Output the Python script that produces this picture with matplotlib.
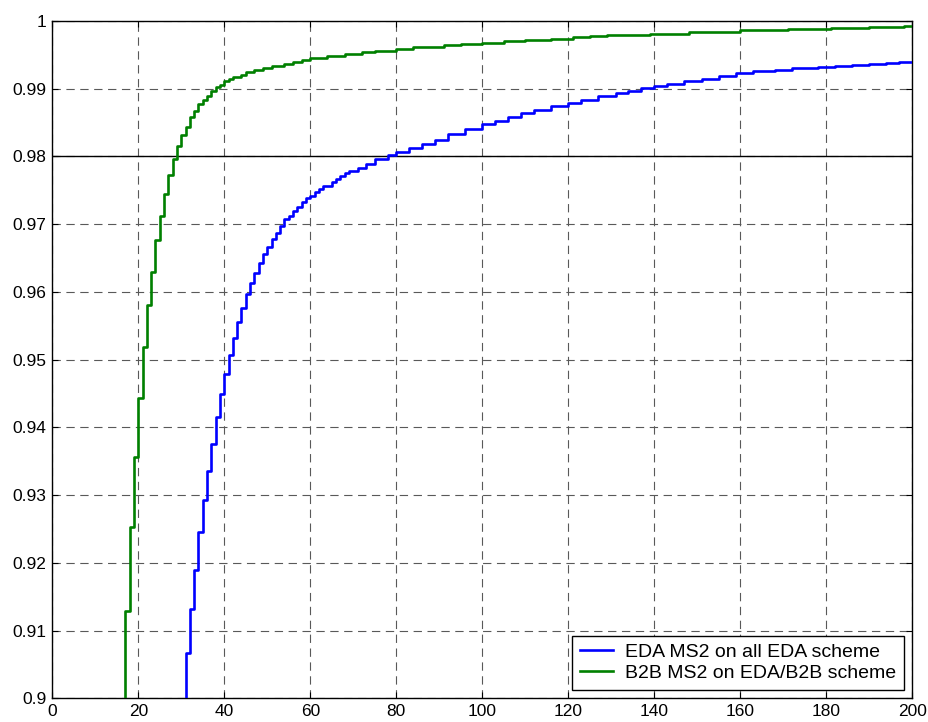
import matplotlib
matplotlib.use("Agg")
import matplotlib.pyplot as plt

plt.rcParams['font.family'] = ['Liberation Sans', 'DejaVu Sans']
plt.rcParams['lines.scale_dashes'] = False

# EDA MS2 on all EDA scheme
eda_x = [31, 32, 33, 34, 35, 36, 37, 38, 39, 40, 41, 42, 43, 44, 45, 46, 47, 48,
         49, 50, 51, 52, 53, 54, 55, 56, 57, 58, 59, 60, 61, 62, 63, 65, 66, 67,
         68, 69, 71, 73, 75, 78, 80, 83, 86, 89, 92, 96, 100, 103, 106, 109, 112,
         116, 120, 123, 127, 131, 134, 137, 140, 143, 147, 151, 155, 159, 163,
         168, 172, 178, 182, 186, 190, 194, 197, 200]
eda_y = [0.9067, 0.9132, 0.9190, 0.9245, 0.9293, 0.9336, 0.9376, 0.9415, 0.9450,
         0.9479, 0.9507, 0.9532, 0.9556, 0.9577, 0.9597, 0.9613, 0.9628, 0.9643,
         0.9656, 0.9667, 0.9678, 0.9687, 0.9697, 0.9707, 0.9712, 0.9720, 0.9726,
         0.9733, 0.9738, 0.9742, 0.9747, 0.9752, 0.9756, 0.9763, 0.9767, 0.9771,
         0.9775, 0.9779, 0.9783, 0.9789, 0.9796, 0.9802, 0.9807, 0.9813, 0.9819,
         0.9825, 0.9833, 0.9840, 0.9848, 0.9853, 0.9859, 0.9864, 0.9869, 0.9874,
         0.9879, 0.9883, 0.9890, 0.9894, 0.9897, 0.9901, 0.9904, 0.9907, 0.9911,
         0.9915, 0.9919, 0.9923, 0.9926, 0.9928, 0.9930, 0.9932, 0.9934, 0.9935,
         0.9937, 0.9938, 0.9939, 0.9939]

# B2B MS2 on EDA/B2B scheme
b2b_x = [17, 18, 19, 20, 21, 22, 23, 24, 25, 26, 27, 28, 29, 30, 31, 32, 33, 34,
         35, 36, 37, 38, 39, 40, 41, 42, 44, 45, 47, 49, 51, 54, 56, 58, 60, 64,
         68, 72, 75, 80, 84, 87, 91, 95, 100, 105, 110, 116, 121, 125, 129, 134,
         139, 148, 160, 171, 181, 190, 198, 200]
b2b_y = [0.9129, 0.9253, 0.9356, 0.9443, 0.9518, 0.9581, 0.9630, 0.9677, 0.9712,
         0.9744, 0.9773, 0.9796, 0.9816, 0.9831, 0.9844, 0.9859, 0.9867, 0.9877,
         0.9884, 0.9890, 0.9896, 0.9903, 0.9906, 0.9911, 0.9914, 0.9917, 0.9921,
         0.9924, 0.9927, 0.9931, 0.9934, 0.9937, 0.9940, 0.9942, 0.9945, 0.9948,
         0.9951, 0.9954, 0.9956, 0.9959, 0.9961, 0.9962, 0.9964, 0.9966, 0.9968,
         0.9970, 0.9972, 0.9974, 0.9976, 0.9978, 0.9979, 0.9980, 0.9981, 0.9984,
         0.9986, 0.9988, 0.9990, 0.9991, 0.9993, 0.9993]

x_ticks = [0, 20, 40, 60, 80, 100, 120, 140, 160, 180, 200]
y_ticks = [0.9, 0.91, 0.92, 0.93, 0.94, 0.95, 0.96, 0.97, 0.98, 0.99, 1.0]
y_labels = ['0.9', '0.91', '0.92', '0.93', '0.94', '0.95', '0.96', '0.97', '0.98', '0.99', '1']

fig = plt.figure(figsize=(9.29, 7.22), dpi=100)
ax = fig.add_axes([0.0563, 0.0328, 0.9257, 0.9381])

# vertical drop from below the axis to the first step
ax.step([eda_x[0]] + eda_x, [0.85] + eda_y, where='post', color='#0000ff', lw=1.9,
        label='EDA MS2 on all EDA scheme', zorder=3)
ax.step([b2b_x[0]] + b2b_x, [0.85] + b2b_y, where='post', color='#008000', lw=1.9,
        label='B2B MS2 on EDA/B2B scheme', zorder=3)

ax.axhline(0.98, color='k', lw=1.0, zorder=2)

ax.set_xlim(0, 200)
ax.set_ylim(0.9, 1.0)
ax.set_xticks(x_ticks)
ax.set_yticks(y_ticks)
ax.set_yticklabels(y_labels)
ax.grid(True, color='0.35', linestyle=(0, (6, 4)), lw=0.8)
ax.tick_params(direction='in', length=4, width=0.8, top=True, right=True,
               labelsize=12.5, colors='k', pad=4)
for s in ax.spines.values():
    s.set_linewidth(1.0)

leg = ax.legend(loc='lower right', fontsize=14, frameon=True, fancybox=False,
                borderaxespad=0.45, handlelength=1.7, borderpad=0.4,
                labelspacing=0.15, handletextpad=0.6)
leg.get_frame().set_edgecolor('k')
leg.get_frame().set_linewidth(1.0)
leg.get_frame().set_alpha(1)

fig.savefig('out.png', dpi=100)
